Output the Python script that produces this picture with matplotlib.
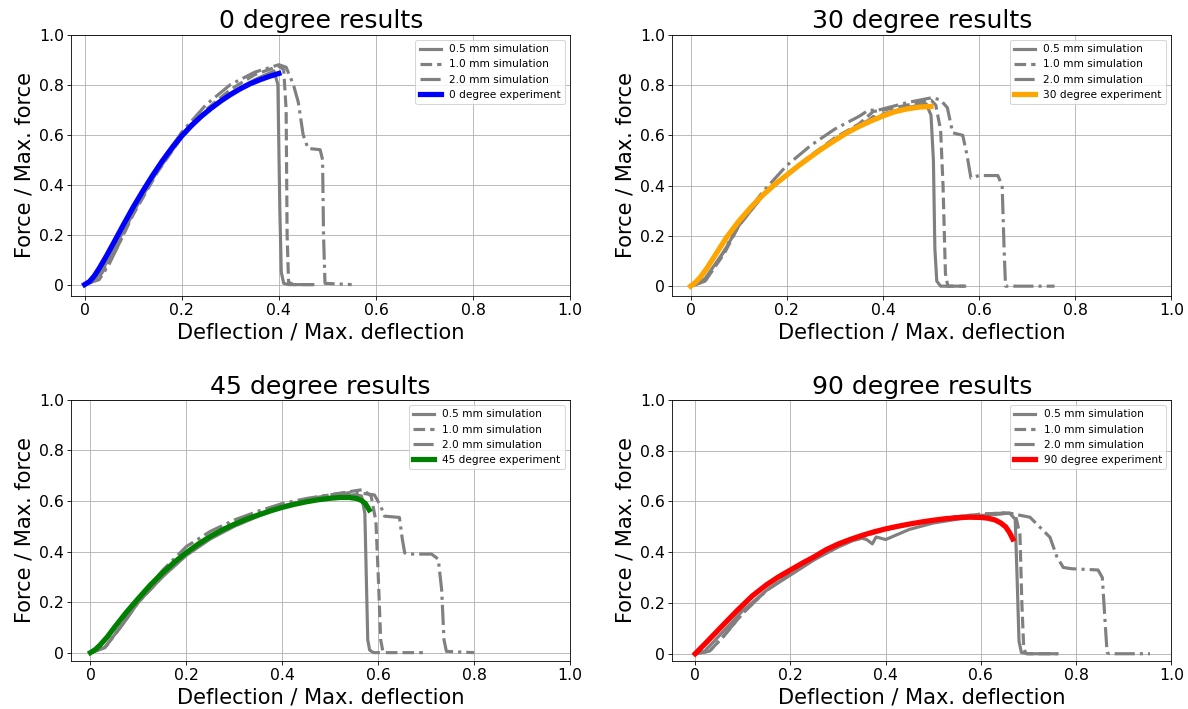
import matplotlib
matplotlib.use('Agg')
import matplotlib.pyplot as plt

# ---- 0 degree ----
exp0_x = [0, 0.01, 0.02, 0.03, 0.045, 0.06, 0.08, 0.1, 0.12, 0.14, 0.16, 0.18, 0.2, 0.22, 0.24, 0.26, 0.28,
          0.3, 0.32, 0.34, 0.36, 0.38, 0.40]
exp0_y = [0, 0.012, 0.035, 0.065, 0.115, 0.168, 0.24, 0.31, 0.375, 0.437, 0.495, 0.548, 0.595, 0.637, 0.673,
          0.705, 0.734, 0.76, 0.783, 0.803, 0.819, 0.833, 0.845]
s05_0_x = [0, 0.02, 0.04, 0.06, 0.1, 0.15, 0.2, 0.25, 0.3, 0.35, 0.39, 0.398, 0.402, 0.405, 0.41, 0.42, 0.47]
s05_0_y = [0, 0.015, 0.07, 0.14, 0.29, 0.455, 0.59, 0.69, 0.765, 0.82, 0.855, 0.80, 0.30, 0.05, 0.005, 0, 0]
s10_0_x = [0, 0.03, 0.05, 0.07, 0.1, 0.15, 0.2, 0.25, 0.3, 0.35, 0.40, 0.41, 0.415, 0.417, 0.42, 0.43, 0.47]
s10_0_y = [0, 0.03, 0.09, 0.16, 0.28, 0.45, 0.59, 0.70, 0.78, 0.84, 0.875, 0.86, 0.70, 0.2, 0.01, 0, 0]
s20_0_x = [0, 0.03, 0.05, 0.07, 0.1, 0.15, 0.2, 0.25, 0.3, 0.35, 0.40, 0.415, 0.43, 0.44, 0.45, 0.46, 0.485,
           0.49, 0.492, 0.495, 0.55]
s20_0_y = [0, 0.02, 0.08, 0.16, 0.29, 0.47, 0.61, 0.72, 0.80, 0.85, 0.88, 0.87, 0.80, 0.73, 0.60, 0.545, 0.54,
           0.50, 0.2, 0.005, 0]

# ---- 30 degree ----
exp30_x = [0, 0.01, 0.02, 0.035, 0.05, 0.075, 0.1, 0.125, 0.15, 0.175, 0.2, 0.225, 0.25, 0.275, 0.3, 0.325,
           0.35, 0.375, 0.4, 0.425, 0.45, 0.475, 0.5]
exp30_y = [0, 0.015, 0.035, 0.075, 0.12, 0.195, 0.258, 0.313, 0.362, 0.405, 0.442, 0.48, 0.515, 0.549, 0.58,
           0.61, 0.635, 0.657, 0.677, 0.694, 0.705, 0.712, 0.715]
s05_30_x = [0, 0.03, 0.05, 0.07, 0.1, 0.15, 0.2, 0.25, 0.3, 0.35, 0.37, 0.38, 0.39, 0.4, 0.45, 0.49, 0.5,
            0.505, 0.508, 0.512, 0.52, 0.57]
s05_30_y = [0, 0.03, 0.085, 0.14, 0.24, 0.36, 0.44, 0.515, 0.585, 0.64, 0.66, 0.675, 0.665, 0.685, 0.71, 0.725,
            0.68, 0.5, 0.15, 0.02, 0, 0]
s10_30_x = [0, 0.03, 0.05, 0.07, 0.1, 0.15, 0.2, 0.25, 0.3, 0.35, 0.38, 0.4, 0.45, 0.5, 0.51, 0.52, 0.525,
            0.53, 0.535, 0.57]
s10_30_y = [0, 0.02, 0.075, 0.13, 0.24, 0.36, 0.445, 0.52, 0.59, 0.645, 0.695, 0.70, 0.72, 0.74, 0.72, 0.62,
            0.4, 0.05, 0, 0]
s20_30_x = [0, 0.03, 0.05, 0.07, 0.1, 0.15, 0.2, 0.25, 0.3, 0.35, 0.37, 0.39, 0.45, 0.503, 0.52, 0.534, 0.545,
            0.566, 0.575, 0.583, 0.6, 0.639, 0.648, 0.652, 0.655, 0.66, 0.757]
s20_30_y = [0, 0.02, 0.08, 0.14, 0.25, 0.375, 0.48, 0.56, 0.625, 0.675, 0.70, 0.70, 0.73, 0.75, 0.74, 0.71,
            0.61, 0.60, 0.52, 0.43, 0.44, 0.44, 0.40, 0.15, 0.0, 0, 0]

# ---- 45 degree ----
exp45_x = [0, 0.01, 0.02, 0.035, 0.05, 0.075, 0.1, 0.125, 0.15, 0.175, 0.2, 0.225, 0.25, 0.275, 0.3, 0.325,
           0.35, 0.375, 0.4, 0.425, 0.45, 0.475, 0.5, 0.52, 0.54, 0.555, 0.565, 0.573, 0.581]
exp45_y = [0, 0.012, 0.03, 0.062, 0.1, 0.16, 0.215, 0.268, 0.315, 0.358, 0.396, 0.43, 0.46, 0.486, 0.508, 0.528,
           0.545, 0.561, 0.575, 0.587, 0.597, 0.605, 0.611, 0.614, 0.614, 0.61, 0.602, 0.59, 0.565]
s05_45_x = [0, 0.03, 0.05, 0.07, 0.1, 0.15, 0.2, 0.25, 0.3, 0.35, 0.4, 0.45, 0.5, 0.55, 0.565, 0.572, 0.575,
            0.578, 0.582, 0.59, 0.6]
s05_45_y = [0, 0.02, 0.07, 0.12, 0.2, 0.30, 0.385, 0.45, 0.50, 0.54, 0.575, 0.595, 0.615, 0.625, 0.62, 0.55,
            0.3, 0.05, 0.01, 0, 0]
s10_45_x = [0, 0.03, 0.05, 0.07, 0.1, 0.15, 0.2, 0.25, 0.3, 0.35, 0.4, 0.45, 0.5, 0.55, 0.567, 0.585, 0.595,
            0.6, 0.605, 0.61, 0.693]
s10_45_y = [0, 0.02, 0.07, 0.12, 0.2, 0.30, 0.39, 0.455, 0.505, 0.545, 0.58, 0.605, 0.625, 0.64, 0.645, 0.62,
            0.52, 0.3, 0.05, 0, 0]
s20_45_x = [0, 0.03, 0.05, 0.07, 0.1, 0.15, 0.2, 0.25, 0.3, 0.35, 0.4, 0.45, 0.5, 0.55, 0.592, 0.605, 0.613,
            0.644, 0.65, 0.655, 0.66, 0.711, 0.725, 0.732, 0.737, 0.742, 0.80]
s20_45_y = [0, 0.02, 0.07, 0.12, 0.21, 0.325, 0.42, 0.48, 0.525, 0.56, 0.59, 0.61, 0.625, 0.635, 0.624, 0.58,
            0.54, 0.535, 0.45, 0.395, 0.39, 0.39, 0.37, 0.25, 0.05, 0.005, 0]

# ---- 90 degree ----
exp90_x = [0, 0.02, 0.04, 0.06, 0.088, 0.12, 0.15, 0.175, 0.2, 0.225, 0.25, 0.275, 0.3, 0.325, 0.35, 0.375,
           0.4, 0.425, 0.45, 0.475, 0.5, 0.525, 0.55, 0.575, 0.6, 0.615, 0.63, 0.642, 0.652, 0.66, 0.667]
exp90_y = [0, 0.038, 0.077, 0.116, 0.17, 0.228, 0.272, 0.303, 0.33, 0.357, 0.382, 0.41, 0.432, 0.45, 0.466,
           0.48, 0.492, 0.502, 0.511, 0.519, 0.526, 0.532, 0.536, 0.538, 0.537, 0.534, 0.527, 0.515, 0.5, 0.478, 0.452]
s05_90_x = [0, 0.02, 0.05, 0.1, 0.15, 0.2, 0.25, 0.3, 0.33, 0.35, 0.36, 0.372, 0.38, 0.4, 0.45, 0.5, 0.55,
            0.6, 0.64, 0.66, 0.672, 0.676, 0.68, 0.685, 0.7, 0.76]
s05_90_y = [0, 0.01, 0.07, 0.17, 0.25, 0.31, 0.37, 0.42, 0.445, 0.455, 0.45, 0.433, 0.46, 0.45, 0.49, 0.515,
            0.53, 0.545, 0.55, 0.555, 0.53, 0.3, 0.05, 0.005, 0, 0]
s10_90_x = [0, 0.03, 0.06, 0.1, 0.15, 0.2, 0.25, 0.3, 0.35, 0.4, 0.45, 0.5, 0.55, 0.6, 0.65, 0.672, 0.682,
            0.686, 0.69, 0.695, 0.76]
s10_90_y = [0, 0.01, 0.07, 0.16, 0.25, 0.315, 0.375, 0.425, 0.46, 0.49, 0.51, 0.525, 0.54, 0.55, 0.555, 0.55,
            0.47, 0.2, 0.02, 0, 0]
s20_90_x = [0, 0.03, 0.06, 0.1, 0.15, 0.2, 0.25, 0.3, 0.35, 0.4, 0.45, 0.5, 0.55, 0.6, 0.656, 0.703, 0.745,
            0.76, 0.773, 0.79, 0.846, 0.855, 0.86, 0.865, 0.87, 0.955]
s20_90_y = [0, 0.01, 0.07, 0.16, 0.25, 0.315, 0.375, 0.425, 0.465, 0.49, 0.51, 0.525, 0.54, 0.55, 0.555, 0.538,
            0.459, 0.38, 0.34, 0.335, 0.33, 0.30, 0.15, 0.005, 0, 0]

ticks = [0, 0.2, 0.4, 0.6, 0.8, 1.0]
tick_labels = ['0', '0.2', '0.4', '0.6', '0.8', '1.0']

panels = [
    ('0 degree', 'blue', (s05_0_x, s05_0_y), (s10_0_x, s10_0_y), (s20_0_x, s20_0_y), (exp0_x, exp0_y)),
    ('30 degree', 'orange', (s05_30_x, s05_30_y), (s10_30_x, s10_30_y), (s20_30_x, s20_30_y), (exp30_x, exp30_y)),
    ('45 degree', 'green', (s05_45_x, s05_45_y), (s10_45_x, s10_45_y), (s20_45_x, s20_45_y), (exp45_x, exp45_y)),
    ('90 degree', 'red', (s05_90_x, s05_90_y), (s10_90_x, s10_90_y), (s20_90_x, s20_90_y), (exp90_x, exp90_y)),
]

DPI = 75.5
fig, axes = plt.subplots(2, 2, figsize=(1188 / DPI, 709 / DPI), dpi=DPI)
plt.subplots_adjust(left=0.06, right=0.986, top=0.951, bottom=0.068, wspace=0.205, hspace=0.4)

for ax, (name, col, s05, s10, s20, exp) in zip(axes.flat, panels):
    ax.plot(s05[0], s05[1], color='grey', ls='-', lw=3, label='0.5 mm simulation')
    ax.plot(s10[0], s10[1], color='grey', ls='--', lw=3, label='1.0 mm simulation')
    ax.plot(s20[0], s20[1], color='grey', ls='-.', lw=3, label='2.0 mm simulation')
    ax.plot(exp[0], exp[1], color=col, lw=5, label=name + ' experiment')
    ax.set_xlim(ax.get_xlim()[0], 1.0)
    ax.set_ylim(ax.get_ylim()[0], 1.0)
    ax.set_xticks(ticks)
    ax.set_xticklabels(tick_labels, fontsize=15)
    ax.set_yticks(ticks)
    ax.set_yticklabels(tick_labels, fontsize=15)
    ax.grid(True)
    ax.set_title(name + ' results', fontsize=24)
    ax.set_xlabel('Deflection / Max. deflection', fontsize=20)
    ax.set_ylabel('Force / Max. force', fontsize=20)
    ax.legend(loc='upper right', fontsize=10)

plt.savefig('out.png', dpi=DPI)
